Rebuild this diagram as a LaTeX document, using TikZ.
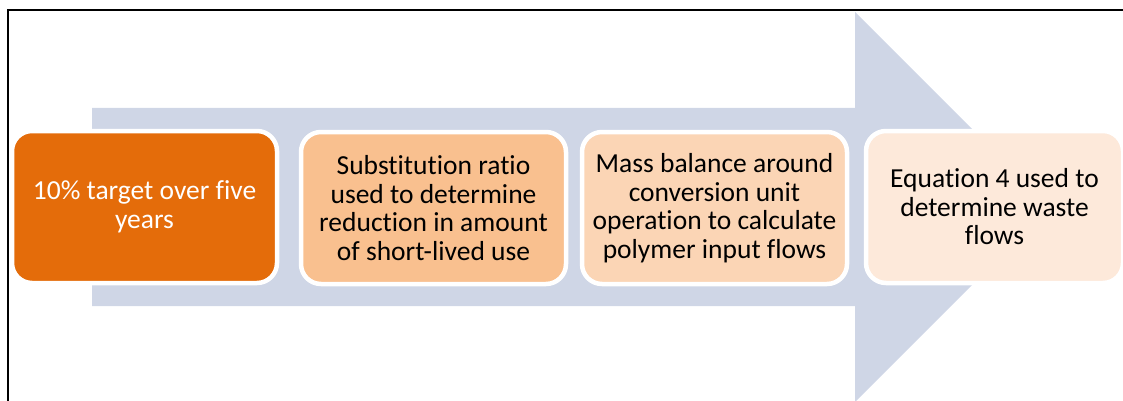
\documentclass[tikz,border=0pt]{standalone}
\usepackage{fontspec}
\setmainfont{Carlito}[Ligatures={NoCommon}]
\definecolor{arrowc}{HTML}{CFD6E6}
\definecolor{c1}{HTML}{E46C0A}
\definecolor{c2}{HTML}{F9C08F}
\definecolor{c3}{HTML}{FBD5B5}
\definecolor{c4}{HTML}{FDE9DA}
\tikzset{
  stepbox/.style={draw=white, line width=4.5pt, rounded corners=20pt,
    minimum width=265pt, minimum height=152pt, align=center,
    font=\fontsize{27.5}{28.5}\selectfont, inner sep=0pt, text=black},
  frameline/.style={draw=black, line width=2pt}
}
\begin{document}
\begin{tikzpicture}[x=1pt,y=-1pt]
\useasboundingbox (0,0) rectangle (1123,401);
% big arrow
\fill[arrowc] (92,108) -- (855,108) -- (855,12) -- (1050,207) -- (855,402) -- (855,306) -- (92,306) -- cycle;
% frame
\coordinate (fl) at (8,402);
\coordinate (ftl) at (8,10);
\coordinate (fr) at (1124,10);
\draw[frameline] (fl) -- (ftl) -- (fr);
% boxes
\node[stepbox, fill=c1, text=white] (b1) at (144.5,207) {10\% target over five\\years};
\node[stepbox, fill=c2] (b2) at (433.5,208) {Substitution ratio\\used to determine\\reduction in amount\\of short-lived use};
\node[stepbox, fill=c3] (b3) at (714.5,208) {Mass balance around\\conversion unit\\operation to calculate\\polymer input flows};
\node[stepbox, fill=c4, minimum width=257pt] (b4) at (994.5,207) {Equation 4 used to\\determine waste\\flows};
\end{tikzpicture}
\end{document}
